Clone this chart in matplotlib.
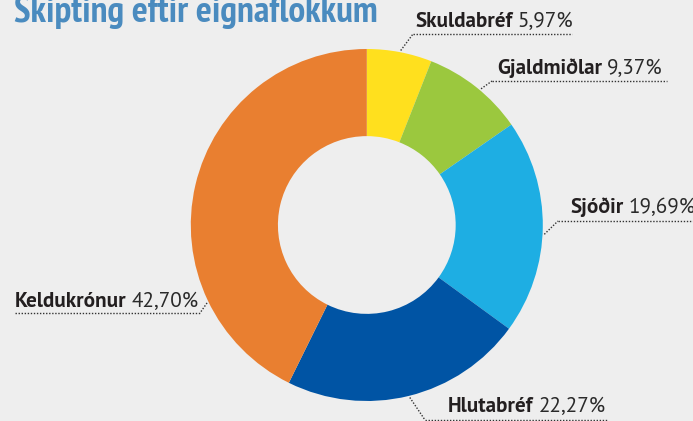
import matplotlib
matplotlib.use('Agg')
import matplotlib.pyplot as plt
import numpy as np
from matplotlib.lines import Line2D
from matplotlib import font_manager as fm

# ---- data ----
categories = ['Skuldabréf', 'Gjaldmiðlar', 'Sjóðir', 'Hlutabréf', 'Keldukrónur']
values = [5.97, 9.37, 19.69, 22.27, 42.70]
value_labels = ['5,97%', '9,37%', '19,69%', '22,27%', '42,70%']
colors = ['#FFE01E', '#9BC83E', '#1EAEE3', '#0054A4', '#E97F30']
title = 'Skipting eftir eignaflokkum'

# ---- layout (pixels, origin top-left) ----
W, H = 693, 421
BG = '#EEEEEE'
cx, cy, R = 366.8, 225, 176
leader_angles = [79, 50, -3, -76, 206]          # deg, where leader touches ring
text_pos = [(415, 27), (497, 74), (570, 213), (448, 412), (15, 307)]
underline = [((413, 572), 34), ((492, 667), 81), ((558, 693), 221),
             ((425, 607), 420), ((15, 200), 313)]

# ---- font selection ----
avail = {}
for f in fm.fontManager.ttflist:
    avail.setdefault(f.name, set()).add(f.weight if isinstance(f.weight, int) else 400)


def pick(cands, need_weights=(700,)):
    for c in cands:
        if c in avail and all(any(abs(w - nw) <= 100 for w in avail[c]) for nw in need_weights):
            return c
    return 'DejaVu Sans'


title_font = pick(['PT Sans Narrow', 'Fira Sans Extra Condensed', 'Fira Sans Condensed',
                   'Roboto Condensed', 'Archivo Narrow', 'Encode Sans Condensed',
                   'Liberation Sans Narrow'], (700,))
label_font = pick(['Source Sans Pro', 'Source Sans 3', 'PT Sans', 'Open Sans'], (700, 400))

fig = plt.figure(figsize=(W / 100, H / 100), dpi=100, facecolor=BG)
ax = fig.add_axes([(cx - R) / W, (H - cy - R) / H, 2 * R / W, 2 * R / H])
ax.set_facecolor('none')
ax.pie(values, colors=colors, startangle=90, counterclock=False, radius=1,
       wedgeprops=dict(width=0.495, linewidth=0))
ax.set_xlim(-1, 1)
ax.set_ylim(-1, 1)
ax.set_aspect('equal')
ax.axis('off')


def fx(x):
    return x / W


def fy(y):
    return 1 - y / H


renderer = fig.canvas.get_renderer()

# title
tt = fig.text(fx(14), fy(22), title, color='#4A8BBF', fontsize=21,
              fontweight='bold', family=[title_font, 'DejaVu Sans'],
              va='baseline', ha='left')
tb = tt.get_window_extent(renderer)
tt.set_fontsize(21 * (377 - 14) / tb.width)

# label size fitted to the width of "Skuldabréf" (98 px in the reference)
probe = fig.text(0, 0, categories[0], fontsize=14, fontweight='bold',
                 family=[label_font, 'DejaVu Sans'])
lab_fs = 14 * 98 / probe.get_window_extent(renderer).width
probe.remove()

for i, (name, lab) in enumerate(zip(categories, value_labels)):
    tx, ty = text_pos[i]
    t1 = fig.text(fx(tx), fy(ty), name, fontsize=lab_fs, fontweight='bold',
                  family=[label_font, 'DejaVu Sans'], color='#231F20',
                  va='baseline', ha='left')
    bb = t1.get_window_extent(renderer)
    fig.text(bb.x1 / W + 5 / W, fy(ty), lab, fontsize=lab_fs, fontweight='normal',
             family=[label_font, 'DejaVu Sans'], color='#2A2A2A',
             va='baseline', ha='left')
    # leader
    a = np.deg2rad(leader_angles[i])
    px, py = ax.transData.transform((1.01 * np.cos(a), 1.01 * np.sin(a)))
    (ux0, ux1), uy = underline[i]
    jx = ux0 if abs(px - ux0) < abs(px - ux1) else ux1
    fig.add_artist(Line2D([px / W, fx(jx)], [py / H, fy(uy)],
                          transform=fig.transFigure, color='#333333',
                          lw=1.0, ls=(0, (1, 1.2))))
    fig.add_artist(Line2D([fx(ux0), fx(ux1)], [fy(uy), fy(uy)],
                          transform=fig.transFigure, color='#333333',
                          lw=1.0, ls=(0, (1, 1.2))))

fig.savefig('out.png', dpi=100, facecolor=BG)
